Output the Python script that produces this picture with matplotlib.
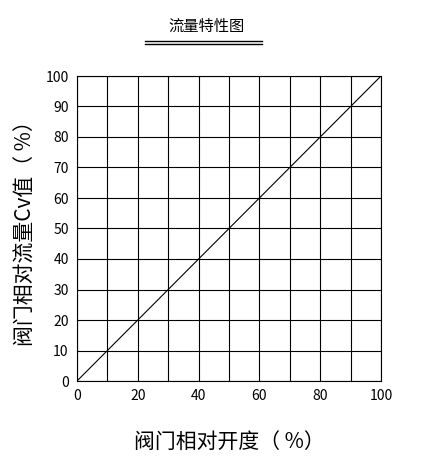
import matplotlib
matplotlib.use("Agg")
import matplotlib.pyplot as plt
from matplotlib.lines import Line2D

plt.rcParams['font.family'] = ['Noto Sans CJK SC', 'DejaVu Sans']

opening = [0, 100]
flow = [0, 100]
xticks = [0, 20, 40, 60, 80, 100]
yticks = list(range(0, 101, 10))

fig = plt.figure(figsize=(4.34, 4.61), dpi=100)
ax = fig.add_axes([77 / 434, 80 / 461, 304 / 434, 305 / 461])
ax.plot(opening, flow, color="black", lw=0.8)
ax.set_xlim(0, 100)
ax.set_ylim(0, 100)
ax.set_xticks(range(0, 101, 10), minor=False)
ax.set_xticklabels([str(v) if v in xticks else "" for v in range(0, 101, 10)], fontsize=10)
ax.set_yticks(yticks)
ax.set_yticklabels([str(v) for v in yticks], fontsize=10)
ax.tick_params(length=0, pad=6)
ax.grid(True, color="black", lw=0.8)
for s in ax.spines.values():
    s.set_linewidth(0.8)
ax.set_xlabel("阀门相对开度（ %）", fontsize=15, labelpad=20)
ax.set_ylabel("阀门相对流量Cv值（ %）", fontsize=15, labelpad=6)

fig.text(0.475, 1 - 26 / 461, "流量特性图", ha="center", va="center", fontsize=11)
for yy in (41, 44):
    fig.add_artist(Line2D([145 / 434, 262 / 434], [1 - yy / 461] * 2, color="black", lw=1))

fig.savefig("out.png", dpi=100, facecolor="white")
